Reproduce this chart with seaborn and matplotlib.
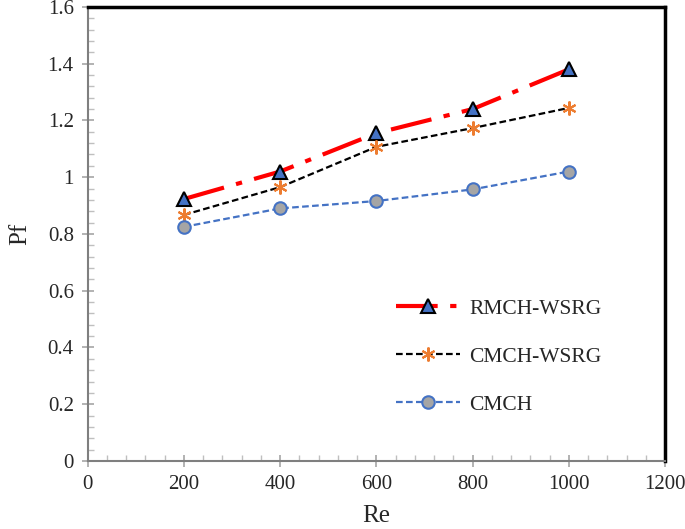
import matplotlib
matplotlib.use('Agg')
import matplotlib.pyplot as plt
from matplotlib.ticker import MultipleLocator
import pandas as pd
import seaborn as sns

re_values = [200, 400, 600, 800, 1000]
rmch_wsrg = [0.923, 1.02, 1.155, 1.24, 1.38]
cmch_wsrg = [0.867, 0.965, 1.107, 1.173, 1.244]
cmch = [0.825, 0.89, 0.916, 0.957, 1.02]

sns.set_style('white')
plt.rcParams['font.family'] = ['Liberation Serif', 'DejaVu Serif']

fig = plt.figure(figsize=(6.85, 5.29), dpi=100)
ax = fig.add_axes([0.128, 0.1285, 0.843, 0.8585])

#red dash-dot with triangles
sns.lineplot(x=re_values, y=rmch_wsrg, ax=ax, color='#FF0000', linewidth=3,
             dashes=False, label='RMCH-WSRG')
ax.lines[-1].set_dashes([10, 3, 1.5, 3])
ax.lines[-1].set_marker('^')
ax.lines[-1].set_markersize(10)
ax.lines[-1].set_markerfacecolor('#4472C4')
ax.lines[-1].set_markeredgecolor('black')
ax.lines[-1].set_markeredgewidth(1.5)

sns.lineplot(x=re_values, y=cmch_wsrg, ax=ax, color='black', linewidth=1.6,
             linestyle='--', marker=(6, 2, 0), markersize=10,
             markeredgecolor='#ED7D31', markerfacecolor='#ED7D31',
             markeredgewidth=1.5, label='CMCH-WSRG')
ax.lines[-1].set_dashes([3, 1.5])

sns.lineplot(x=re_values, y=cmch, ax=ax, color='#4472C4', linewidth=1.6,
             linestyle='--', marker='o', markersize=9,
             markerfacecolor='#A5A5A5', markeredgecolor='#4472C4',
             markeredgewidth=1.5, label='CMCH')
ax.lines[-1].set_dashes([3, 1.5])

ax.set_xlim(0, 1200)
ax.set_ylim(0, 1.6)
ax.xaxis.set_major_locator(MultipleLocator(200))
ax.xaxis.set_minor_locator(MultipleLocator(40))
ax.yaxis.set_major_locator(MultipleLocator(0.2))
ax.yaxis.set_minor_locator(MultipleLocator(0.04))
ax.set_yticks([0, 0.2, 0.4, 0.6, 0.8, 1, 1.2, 1.4, 1.6])
ax.set_yticklabels(['0', '0.2', '0.4', '0.6', '0.8', '1', '1.2', '1.4', '1.6'])

ax.tick_params(which='major', direction='inout', length=8, width=1.2,
               color='#A6A6A6', labelsize=15, left=True, bottom=True, pad=6)
ax.tick_params(which='minor', direction='in', length=4, width=1,
               color='#BFBFBF', left=True, bottom=True)

for side in ['left', 'bottom']:
    ax.spines[side].set_color('#7F7F7F')
    ax.spines[side].set_linewidth(1.5)
for side in ['top', 'right']:
    ax.spines[side].set_color('black')
    ax.spines[side].set_linewidth(2.5)

ax.set_xlabel('Re', fontsize=18, labelpad=8)
ax.set_ylabel('Pf', fontsize=18, labelpad=12)

ax.legend(loc='upper left', bbox_to_anchor=(0.5, 0.4), frameon=False,
          fontsize=15.5, handlelength=3.0, labelspacing=1.3, handletextpad=0.4)

fig.savefig('out.png', dpi=100)
